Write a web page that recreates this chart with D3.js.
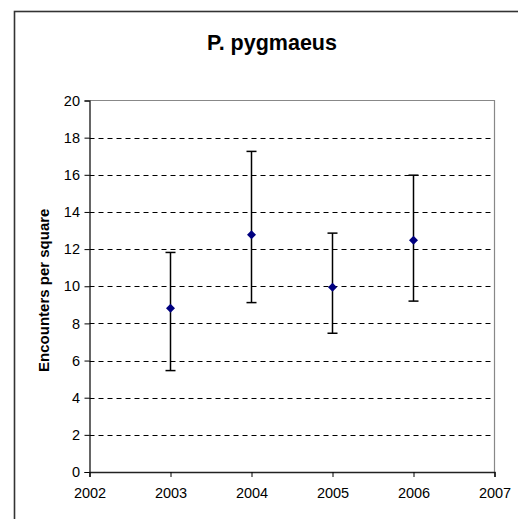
<!DOCTYPE html>
<html>
<head>
<meta charset="utf-8">
<script src="https://cdn.jsdelivr.net/npm/d3@7"></script>
<style>
  html, body { margin: 0; padding: 0; background: #fff; }
  svg { display: block; }
</style>
</head>
<body>
<svg id="chart" width="518" height="519"></svg>
<script>
// Survey results: mean encounters per square with error range
const years = [2003, 2004, 2005, 2006];
const means = [8.82, 12.77, 9.95, 12.48];
const upper = [11.82, 17.26, 12.86, 15.98];
const lower = [5.46, 9.12, 7.47, 9.2];
const xTicks = [2002, 2003, 2004, 2005, 2006, 2007];
const yTicks = [0, 2, 4, 6, 8, 10, 12, 14, 16, 18, 20];

const svg = d3.select("#chart");
const font = "'Liberation Sans', Arial, sans-serif";

const plotLeft = 89.5, plotRight = 494.5, plotTop = 100.5, plotBottom = 472;
const x = d3.scaleLinear().domain([2002, 2007]).range([plotLeft, plotRight]);
const y = d3.scaleLinear().domain([0, 20]).range([plotBottom, plotTop]);

// Outer chart frame
svg.append("rect")
  .attr("x", 14.5).attr("y", 11.5)
  .attr("width", 530).attr("height", 530)
  .attr("fill", "none").attr("stroke", "#333").attr("stroke-width", 1.6);

// Title
svg.append("text")
  .attr("x", 272).attr("y", 50)
  .attr("text-anchor", "middle")
  .attr("font-family", font).attr("font-weight", "bold").attr("font-size", 21.5)
  .text("P. pygmaeus");

// Dashed gridlines
svg.append("g").selectAll("line")
  .data(yTicks.filter(v => v > 0 && v < 20))
  .join("line")
  .attr("x1", plotLeft).attr("x2", plotRight)
  .attr("y1", d => Math.round(y(d)) + 0.5).attr("y2", d => Math.round(y(d)) + 0.5)
  .attr("stroke", "#000").attr("stroke-width", 1)
  .attr("stroke-dasharray", "5,4");

// Plot area border (top and right)
svg.append("path")
  .attr("d", `M${plotLeft},${plotTop}H${plotRight}V${plotBottom}`)
  .attr("fill", "none").attr("stroke", "#888").attr("stroke-width", 1.2);

// Y axis
const yAxis = d3.axisLeft(y).tickValues(yTicks).tickSize(5).tickPadding(4.5);
const gy = svg.append("g").attr("transform", `translate(${plotLeft},0)`).call(yAxis);
gy.select(".domain").attr("stroke", "#000").attr("stroke-width", 1.2);
gy.selectAll(".tick line").attr("stroke", "#000");
gy.selectAll(".tick text")
  .attr("font-family", font).attr("font-size", 14.5).attr("fill", "#000");

// X axis
const xAxis = d3.axisBottom(x).tickValues(xTicks).tickFormat(d3.format("d")).tickSize(5).tickPadding(11);
const gx = svg.append("g").attr("transform", `translate(0,${plotBottom})`).call(xAxis);
gx.select(".domain").attr("stroke", "#222").attr("stroke-width", 1.4);
gx.selectAll(".tick line").attr("stroke", "#000");
gx.selectAll(".tick text")
  .attr("font-family", font).attr("font-size", 14.5).attr("fill", "#000");

// Y axis title
svg.append("text")
  .attr("transform", `translate(49,${(plotTop + plotBottom) / 2 + 4}) rotate(-90)`)
  .attr("text-anchor", "middle")
  .attr("font-family", font).attr("font-weight", "bold").attr("font-size", 15)
  .text("Encounters per square");

// Error bars
const data = years.map((yr, i) => ({ yr, mean: means[i], hi: upper[i], lo: lower[i] }));
const eb = svg.append("g").attr("stroke", "#000").attr("stroke-width", 1.5);
eb.selectAll("line.stem").data(data).join("line").attr("class", "stem")
  .attr("x1", d => x(d.yr)).attr("x2", d => x(d.yr))
  .attr("y1", d => y(d.hi)).attr("y2", d => y(d.lo));
eb.selectAll("line.capHi").data(data).join("line").attr("class", "capHi")
  .attr("x1", d => x(d.yr) - 5).attr("x2", d => x(d.yr) + 5)
  .attr("y1", d => y(d.hi)).attr("y2", d => y(d.hi));
eb.selectAll("line.capLo").data(data).join("line").attr("class", "capLo")
  .attr("x1", d => x(d.yr) - 5).attr("x2", d => x(d.yr) + 5)
  .attr("y1", d => y(d.lo)).attr("y2", d => y(d.lo));

// Diamond markers
svg.append("g").selectAll("path").data(data).join("path")
  .attr("transform", d => `translate(${x(d.yr)},${y(d.mean)})`)
  .attr("d", "M0,-4.5L4.5,0L0,4.5L-4.5,0Z")
  .attr("fill", "#000080");
</script>
</body>
</html>
